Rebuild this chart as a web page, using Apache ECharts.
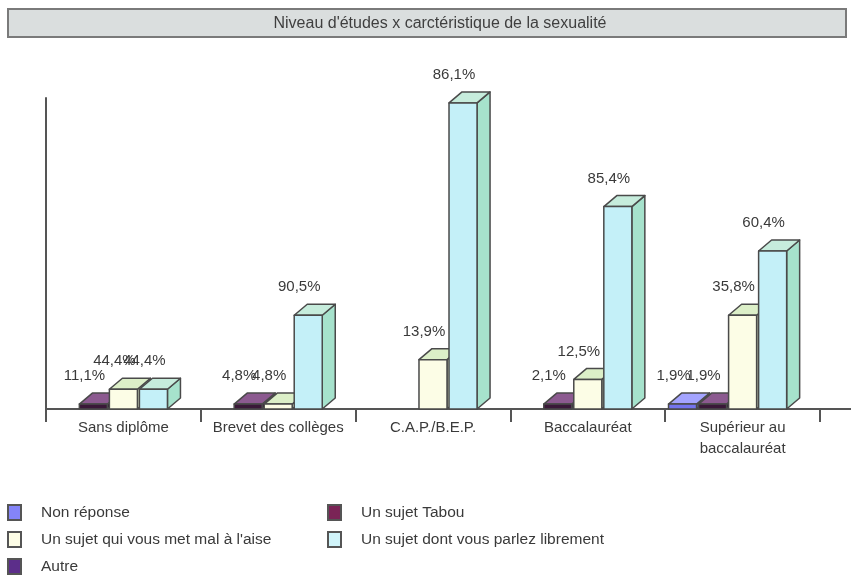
<!DOCTYPE html>
<html>
<head>
<meta charset="utf-8">
<script src="https://cdn.jsdelivr.net/npm/echarts@6/dist/echarts.min.js"></script>
<style>
  html, body { margin: 0; padding: 0; background: #fff; }
  #chart { width: 854px; height: 578px; }
</style>
</head>
<body>
<div id="chart"></div>
<script>
// categories (niveau d'études)
var categories = ['Sans diplôme', 'Brevet des collèges', 'C.A.P./B.E.P.', 'Baccalauréat', 'Supérieur au\nbaccalauréat'];
// effectifs par réponse
var nonReponse = [0, 0, 0, 0, 1];
var tabou      = [1, 1, 0, 1, 1];
var malAise    = [4, 1, 10, 6, 19];
var librement  = [4, 19, 62, 41, 32];
var autre      = [0, 0, 0, 0, 0];

var seriesNames = ['Non réponse', 'Un sujet Tabou', "Un sujet qui vous met mal à l'aise", 'Un sujet dont vous parlez librement', 'Autre'];
var seriesValues = [nonReponse, tabou, malAise, librement, autre];

// face colours: legend/front, top, side
var faceColors = [
  { legend: '#8484f8', front: '#7474ee', top: '#a4a4ff', side: '#5858d0' },
  { legend: '#7a2456', front: '#3a1838', top: '#8c5a90', side: '#2a0e28' },
  { legend: '#fdfde6', front: '#fcfde6', top: '#dcefc8', side: '#e6f2d2' },
  { legend: '#d0f4fa', front: '#c4f0f8', top: '#c6ecdc', side: '#a6e2cc' },
  { legend: '#5c2e8a', front: '#5c2e8a', top: '#7c4eaa', side: '#44206a' }
];

var totals = categories.map(function (c, i) {
  var t = 0;
  seriesValues.forEach(function (s) { t += s[i]; });
  return t;
});

function pct(v, i) {
  return (v / totals[i] * 100).toFixed(1).replace('.', ',') + '%';
}

var DX = 13, DY = 11;

function makeRender(si) {
  var col = faceColors[si];
  return function (params, api) {
    var ci = api.value(0), v = api.value(1);
    if (!v) return;
    var base = api.coord([ci, 0]);
    var top = api.coord([ci, v]);
    var band = api.size([1, 0])[0];
    var slot = band * 0.194;
    var w = slot - 2;
    var x0 = base[0] - 2.5 * slot + si * slot + 1;
    var yb = base[1], yt = top[1];
    var stroke = { stroke: '#4a4a4a', lineWidth: 1.5, lineJoin: 'round' };
    return {
      type: 'group',
      children: [
        { type: 'polygon', shape: { points: [[x0 + w, yt], [x0 + w + DX, yt - DY], [x0 + w + DX, yb - DY], [x0 + w, yb]] },
          style: Object.assign({ fill: col.side }, stroke) },
        { type: 'polygon', shape: { points: [[x0, yt], [x0 + DX, yt - DY], [x0 + w + DX, yt - DY], [x0 + w, yt]] },
          style: Object.assign({ fill: col.top }, stroke) },
        { type: 'rect', shape: { x: x0, y: yt, width: w, height: yb - yt },
          style: Object.assign({ fill: col.front }, stroke) },
        { type: 'text', x: x0 + w / 2 - 9, y: yt - 28,
          style: { text: pct(v, ci), fill: '#3a3a3a', font: '15px "Liberation Sans", Arial, sans-serif',
                   align: 'center', verticalAlign: 'middle' } }
      ]
    };
  };
}

var series = seriesNames.map(function (name, si) {
  return {
    name: name,
    type: 'custom',
    renderItem: makeRender(si),
    itemStyle: { color: faceColors[si].legend, borderColor: '#555', borderWidth: 1 },
    encode: { x: 0, y: 1 },
    data: seriesValues[si].map(function (v, i) { return [i, v]; }),
    z: 2 + si
  };
});

var chart = echarts.init(document.getElementById('chart'), null, { renderer: 'canvas' });

var legendText = { fontSize: 15.5, color: '#3a3a3a', fontFamily: '"Liberation Sans", Arial, sans-serif', padding: [0, 0, 0, 15] };

chart.setOption({
  animation: false,
  backgroundColor: '#fff',
  grid: { left: 46, right: 34, top: 98, bottom: 169 },
  xAxis: {
    type: 'category',
    data: categories,
    axisLine: { lineStyle: { color: '#555', width: 2 } },
    axisTick: { show: true, length: 13, lineStyle: { color: '#555', width: 2 } },
    axisLabel: { interval: 0, margin: 8, fontSize: 15, lineHeight: 21, color: '#3a3a3a',
                 fontFamily: '"Liberation Sans", Arial, sans-serif' }
  },
  yAxis: {
    type: 'value',
    min: 0,
    max: 63,
    axisLine: { show: true, lineStyle: { color: '#555', width: 2 } },
    axisTick: { show: false },
    axisLabel: { show: false },
    splitLine: { show: false }
  },
  legend: [
    { orient: 'vertical', left: 7, top: 504, padding: 0, itemWidth: 13, itemHeight: 15, itemGap: 10,
      height: 74, icon: 'rect', textStyle: legendText, selectedMode: false,
      data: [seriesNames[0], seriesNames[2], seriesNames[4]] },
    { orient: 'vertical', left: 327, top: 504, padding: 0, itemWidth: 13, itemHeight: 15, itemGap: 10,
      height: 74, icon: 'rect', textStyle: legendText, selectedMode: false,
      data: [seriesNames[1], seriesNames[3]] }
  ],
  graphic: [
    { type: 'rect', shape: { x: 8, y: 9, width: 838, height: 28 },
      style: { fill: '#dadede', stroke: '#7a7a7a', lineWidth: 2 } },
    { type: 'text', x: 440, y: 24,
      style: { text: "Niveau d'études x carctéristique de la sexualité", fill: '#3f3f3f',
               font: '16px "Liberation Sans", Arial, sans-serif', align: 'center', verticalAlign: 'middle' } },
    { type: 'line', shape: { x1: 820, y1: 409, x2: 851, y2: 409 },
      style: { stroke: '#555', lineWidth: 2 } }
  ],
  series: series
});
</script>
</body>
</html>
